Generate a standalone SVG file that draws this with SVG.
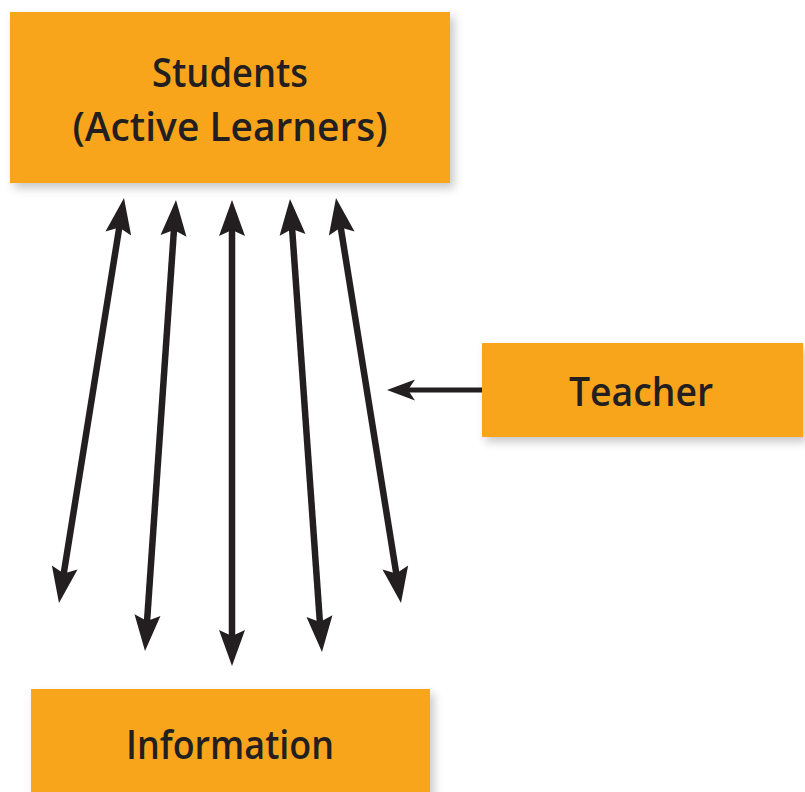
<svg xmlns="http://www.w3.org/2000/svg" width="805" height="792" viewBox="0 0 805 792">
<style>
.box{fill:#F8A51B;filter:url(#sh);}
.lbl{font-family:"Open Sans",Lato,"DejaVu Sans",sans-serif;font-weight:600;font-size:40px;fill:#231F20;text-anchor:middle;font-variant-ligatures:none;}
.arr{stroke:#231F20;stroke-width:6.5;fill:none;marker-start:url(#head);marker-end:url(#head);}
.arr2{stroke:#231F20;stroke-width:5;fill:none;marker-end:url(#head2);}
</style>
<defs>
<filter id="sh" x="-10%" y="-20%" width="125%" height="150%">
<feDropShadow dx="4" dy="5" stdDeviation="5" flood-color="#000" flood-opacity="0.22"/>
</filter>
<marker id="head" markerUnits="userSpaceOnUse" markerWidth="40" markerHeight="30" viewBox="0 -15 40 30" refX="12" refY="0" orient="auto-start-reverse" overflow="visible">
<path d="M0,-13 L36,0 L0,13 L6,0 Z" fill="#231F20"/>
</marker>
<marker id="head2" markerUnits="userSpaceOnUse" markerWidth="30" markerHeight="24" viewBox="0 -12 30 24" refX="10" refY="0" orient="auto" overflow="visible">
<path d="M0,-10.5 L28,0 L0,10.5 L7,0 Z" fill="#231F20"/>
</marker>
</defs>
<g id="students">
<rect class="box" x="10" y="12" width="440" height="171"/>
<text class="lbl" style="font-size:39px"><tspan x="230" y="87" textLength="156" lengthAdjust="spacingAndGlyphs">Students</tspan><tspan x="230" y="141" textLength="315" lengthAdjust="spacingAndGlyphs">(Active Learners)</tspan></text>
</g>
<g id="teacher">
<rect class="box" x="482" y="343" width="321" height="94"/>
<text class="lbl" x="641" y="406" textLength="144" lengthAdjust="spacingAndGlyphs">Teacher</text>
</g>
<g id="information">
<rect class="box" x="31" y="689" width="399" height="110"/>
<text class="lbl" x="230" y="759" textLength="208" lengthAdjust="spacingAndGlyphs">Information</text>
</g>
<g id="connectors">
<line class="arr" x1="120.2" y1="221.7" x2="62.8" y2="579.3"/>
<line class="arr" x1="174.35" y1="223.94" x2="146.65" y2="627.06"/>
<line class="arr" x1="232" y1="224" x2="232" y2="642"/>
<line class="arr" x1="291.7" y1="222.9" x2="320.3" y2="628.1"/>
<line class="arr" x1="339.8" y1="221.7" x2="397.2" y2="579.3"/>
<line class="arr2" x1="482" y1="390" x2="405" y2="390"/>
</g>
</svg>
